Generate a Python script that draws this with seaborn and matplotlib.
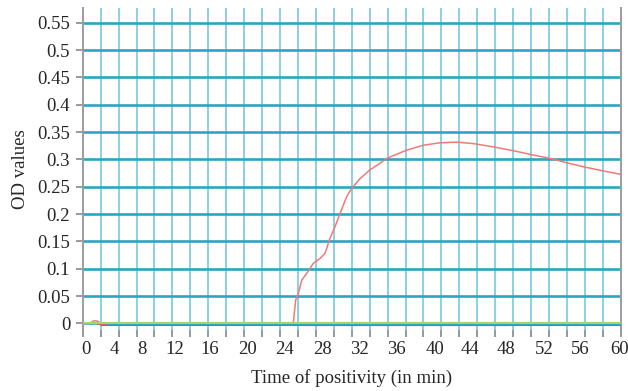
import matplotlib
matplotlib.use("Agg")
import matplotlib.pyplot as plt
import matplotlib.transforms as mtransforms
import seaborn as sns
import numpy as np
import pandas as pd

# ---- data ----
red_time = [0.0, 0.9, 1.1, 1.4, 1.7, 2.0, 23.40, 23.49, 23.75, 24.05, 24.42, 24.98, 25.72, 26.47,
            27.02, 27.58, 28.14, 28.69, 29.44, 30.0, 30.93, 32.04, 33.16, 33.9, 36.13,
            37.99, 39.85, 41.71, 43.56, 45.79, 48.02, 50.25, 52.11, 53.97, 55.83,
            58.06, 59.92]
red_od = [0.0, 0.0, 0.004, 0.005, 0.004, 0.0, 0.0, 0.001, 0.043, 0.055, 0.079, 0.0915, 0.110, 0.119,
          0.128, 0.156, 0.177, 0.201, 0.232, 0.247, 0.265, 0.281, 0.293, 0.302, 0.317,
          0.326, 0.3305, 0.3317, 0.329, 0.323, 0.316, 0.308, 0.302, 0.294, 0.2866,
          0.279, 0.273]

green_time = [0.0, 60.0]
green_od = [0.0012, 0.0012]

blue_time = [2.0, 60.0]
blue_od = [-0.0008, -0.0008]

brown_time = [1.6, 2.0, 2.2, 2.6]
brown_od = [0.0, -0.0015, -0.0018, -0.0018]

purple_time = [24.8, 47.3]
purple_od = [-0.0036, -0.0036]

x_ticks = list(range(0, 61, 2))
x_labels = [str(t) if t % 4 == 0 else "" for t in x_ticks]
y_ticks = [0, 0.05, 0.1, 0.15, 0.2, 0.25, 0.3, 0.35, 0.4, 0.45, 0.5, 0.55]
y_labels = ["0", "0.05", "0.1", "0.15", "0.2", "0.25", "0.3", "0.35", "0.4", "0.45", "0.5", "0.55"]

# layout: horizontal nudge (px) of each labelled x tick, as in the original figure
label_nudge_px = [3, -4.6, -12.8, -15.3, -16, -14.5, -13, -11.5, -10, -9.5,
                  -6.4, -7, -7, -5, -5, -1.4]

# ---- plot ----
sns.set_style("white")
plt.rcParams["font.family"] = ["Liberation Serif", "DejaVu Serif"]

fig = plt.figure(figsize=(6.28, 3.91), dpi=100)
ax = fig.add_axes([0.1317, 0.156, 0.8567, 0.8228])

def df(t, v):
    return pd.DataFrame({"t": t, "v": v})

sns.lineplot(data=df(red_time, red_od), x="t", y="v", ax=ax, color="#f07a78", lw=1.1, sort=False, zorder=3)
sns.lineplot(data=df(purple_time, purple_od), x="t", y="v", ax=ax, color="#b46cc8", lw=1.6, sort=False, zorder=3.5)
sns.lineplot(data=df(blue_time, blue_od), x="t", y="v", ax=ax, color="#1b9fd6", lw=2.2, sort=False, zorder=4)
sns.lineplot(data=df(brown_time, brown_od), x="t", y="v", ax=ax, color="#c8643c", lw=1.6, sort=False, zorder=5)
sns.lineplot(data=df(green_time, green_od), x="t", y="v", ax=ax, color="#a6d46a", lw=1.6, sort=False, zorder=5)

ax.set_xlim(0, 60)
ax.set_ylim(-0.012, 0.5765)

ax.set_xticks(x_ticks)
ax.set_xticklabels(x_labels)
ax.set_yticks(y_ticks)
ax.set_yticklabels(y_labels)

# grid
for t in x_ticks:
    ax.axvline(t, color="#8ccfe2", lw=1.4, zorder=1)
for v in y_ticks:
    ax.axhline(v, color="#2aa5c3", lw=1.9, zorder=1)

for s in ["top", "bottom"]:
    ax.spines[s].set_visible(False)
for s in ["left", "right"]:
    ax.spines[s].set_color("#9a9ea4")
    ax.spines[s].set_linewidth(1.4)
    ax.spines[s].set_zorder(2)

ax.tick_params(axis="x", direction="out", length=5, width=1.3, color="#8e9297",
               labelsize=13.5, pad=3, bottom=True)
ax.tick_params(axis="y", direction="out", length=5, width=1.3, color="#8e9297",
               labelsize=13.5, pad=4, left=True)

labelled = [lab for lab in ax.get_xticklabels() if lab.get_text() != ""]
for lab, dx in zip(labelled, label_nudge_px):
    lab.set_transform(lab.get_transform() + mtransforms.ScaledTranslation(dx / 100, 0, fig.dpi_scale_trans))

ax.set_xlabel("Time of positivity (in min)", fontsize=13.5, labelpad=8)
ax.set_ylabel("OD values", fontsize=13.5, labelpad=6)

fig.savefig("out.png", dpi=100)
